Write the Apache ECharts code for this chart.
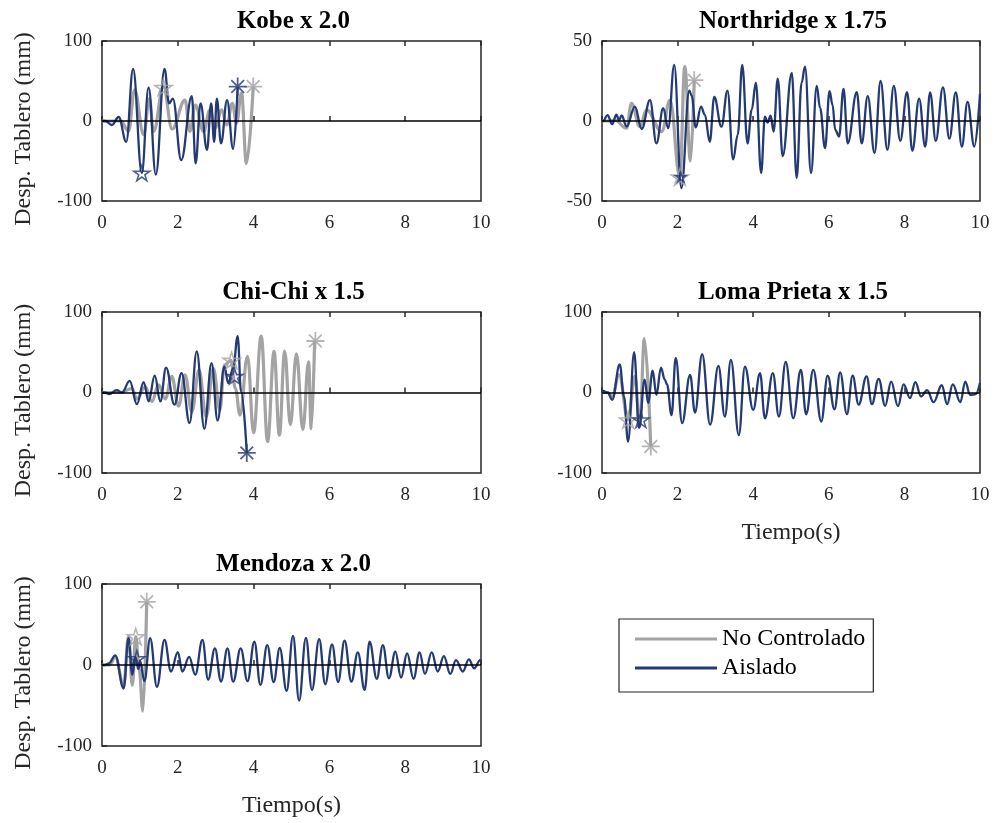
<!DOCTYPE html>
<html><head><meta charset="utf-8">
<script src="https://cdn.jsdelivr.net/npm/echarts@6/dist/echarts.min.js"></script>
<style>html,body{margin:0;padding:0;background:#fff}#c{width:998px;height:823px}</style>
</head><body><div id="c"></div>
<script>
// ---------- DATA (time s, displacement mm) ----------
const titles = ['Kobe x 2.0', 'Northridge x 1.75', 'Chi-Chi x 1.5', 'Loma Prieta x 1.5', 'Mendoza x 2.0'];
const xTicks = [0, 2, 4, 6, 8, 10];
const yLimits = [100, 50, 100, 100, 100];

const kobeNC = [[0,0],[0.5,0],[0.7,-13],[0.86,39],[1.1,-17],[1.25,28],[1.36,-13],[1.62,43],[1.85,-10],[2.19,26],[2.32,-13],[2.46,20],[2.68,-13],[2.85,14],[2.98,-9],[3.16,14],[3.29,-5],[3.44,22],[3.55,-3],[3.68,35],[3.81,-53],[3.99,43]];
const kobeAis = [[0,0],[0.09,0],[0.26,-5],[0.44,5],[0.64,-26],[0.82,65],[1.05,-65],[1.23,42],[1.42,-67],[1.65,65],[1.77,22],[1.87,28],[2.09,-49],[2.37,31],[2.47,-53],[2.6,22],[2.77,-36],[2.88,22],[2.96,-26],[3.03,28],[3.14,-28],[3.3,26],[3.46,-35],[3.58,43]];

const northNC = [[0,0],[0.2,0],[0.34,0.5],[0.65,-4.5],[0.78,11],[1.0,-3.5],[1.18,7],[1.58,-6.6],[1.8,13],[2.06,-35],[2.19,34],[2.34,-25],[2.44,25.5]];
const northAis = [[0,0],[0.03,0],[0.145,3.7],[0.27,-2],[0.38,4],[0.45,0.5],[0.52,3.5],[0.65,-3.5],[0.87,9],[1.05,-5],[1.27,13],[1.44,-14],[1.62,8],[1.75,-4.5],[1.91,35],[2.1,-42],[2.31,19],[2.37,16],[2.48,-4],[2.62,9],[2.72,4],[2.85,-13],[2.97,15],[3.16,-3.5],[3.32,19],[3.47,-24],[3.59,-8.7],[3.71,35],[3.85,-14],[3.96,7],[4.07,24],[4.21,-32.5],[4.31,2.7],[4.38,-1],[4.46,3.3],[4.54,-6.6],[4.65,26.5],[4.78,-22],[5.02,30],[5.15,-35.6],[5.28,24],[5.37,34],[5.53,-32.5],[5.68,22],[5.77,8],[5.9,-17],[6.02,18.6],[6.1,10],[6.17,-5.6],[6.27,-9.7],[6.39,20],[6.5,-14],[6.74,18],[6.87,-14],[7.03,15.5],[7.21,-20],[7.37,25],[7.55,-18],[7.72,22],[7.89,-12.4],[8.07,18],[8.21,-18.6],[8.39,14],[8.55,-16],[8.68,17.8],[8.83,-12.4],[9.02,21],[9.19,-11],[9.36,17.8],[9.52,-16],[9.67,12],[9.85,-16],[10,17]];

const chichiNC = [[0,0],[0.5,0],[0.79,5],[0.92,-8],[1.14,7],[1.32,-11],[1.49,9.5],[1.67,-8],[1.84,20],[2.02,-17],[2.19,22],[2.37,-24],[2.56,28],[2.75,-30],[2.94,30],[3.11,-22],[3.23,34],[3.4,40],[3.52,5],[3.64,-28],[3.84,45],[4.0,-50],[4.2,70],[4.37,-61],[4.54,51],[4.68,-53],[4.82,51],[4.97,-40],[5.13,48],[5.3,-46],[5.45,38],[5.52,-45],[5.61,64]];
const chichiAis = [[0,0],[0.07,0],[0.19,-2],[0.39,3],[0.53,0],[0.73,14.5],[0.92,-14.5],[1.1,13],[1.23,-11],[1.39,21],[1.54,-11],[1.69,31],[1.91,-15],[2.1,24],[2.31,-38],[2.5,51],[2.7,-45],[2.89,36.5],[3.05,-35],[3.23,32],[3.33,11.6],[3.46,30],[3.58,70],[3.67,1],[3.82,-75.5]];

const lomaNC = [[0,0],[0.15,0],[0.27,-5],[0.45,22],[0.69,-34],[0.87,20],[1.0,-42],[1.12,67],[1.29,-67]];
const lomaAis = [[0,0],[0.03,2],[0.15,0],[0.27,-9],[0.47,35],[0.58,-5],[0.69,-61],[0.85,50],[0.98,-44],[1.13,16],[1.22,-13],[1.34,27],[1.44,-3],[1.56,31],[1.66,16],[1.72,10],[1.84,-28],[1.95,43],[2.12,-38],[2.33,22],[2.46,-25],[2.65,47.5],[2.86,-40],[3.08,33],[3.25,-30],[3.41,40.5],[3.62,-53],[3.78,32],[4.0,-21.5],[4.18,24],[4.31,-32],[4.52,24],[4.68,-30],[4.86,38],[5.06,-32],[5.26,28],[5.4,-27],[5.59,28],[5.8,-36],[5.97,21],[6.15,-21],[6.3,25],[6.48,-27],[6.63,21],[6.79,-15],[7.0,20],[7.14,-14.5],[7.32,17],[7.49,-16.5],[7.65,13.6],[7.83,-17],[7.98,10],[8.15,-7],[8.29,13],[8.44,-5],[8.6,3],[8.77,-12],[8.99,9],[9.13,-14.5],[9.28,10],[9.48,-12],[9.61,13.6],[9.74,-3],[9.89,-2],[10,12]];

const mendozaNC = [[0,0],[0.2,0],[0.35,10],[0.57,-25],[0.7,35],[0.8,-25],[0.89,35],[0.98,-5],[1.08,-57],[1.18,78]];
const mendozaAis = [[0,0],[0.07,0],[0.18,2],[0.35,12],[0.57,-29],[0.7,33],[0.8,-12],[0.88,10],[0.96,-5],[1.0,5],[1.12,-20],[1.27,33],[1.45,-27],[1.65,31],[1.82,-8],[2.0,16],[2.12,-8],[2.3,10],[2.46,-12],[2.65,31],[2.8,-18],[2.98,20.5],[3.14,-20.5],[3.31,20.5],[3.46,-20.5],[3.66,20.5],[3.84,-20],[4.02,28.7],[4.18,-24.6],[4.36,24.6],[4.53,-21],[4.69,21],[4.87,-32],[5.04,36],[5.2,-44],[5.38,33.6],[5.54,-30.7],[5.73,32],[5.89,-23.8],[6.07,25.4],[6.23,-21],[6.4,30],[6.58,-20.5],[6.75,15.6],[6.93,-30.7],[7.06,28.7],[7.25,-17],[7.41,24.6],[7.57,-16.4],[7.74,16.4],[7.89,-15.6],[8.05,14.3],[8.22,-17],[8.38,15.6],[8.52,-11],[8.7,15.6],[8.86,-8],[9.02,11],[9.19,-11],[9.34,6],[9.52,-8],[9.68,7],[9.82,-4],[9.98,6],[10,5]];

// markers: [t, value]
const starNC = [[1.62,42],[2.06,-35],[3.42,40],[0.69,-34],[0.89,35]];
const starAis = [[1.05,-65],[2.08,-35],[3.5,20],[1.03,-34],[0.92,8]];
const asterNC = [[3.99,43],[2.44,25.5],[5.63,64],[1.29,-67],[1.18,78]];
const asterAis = [[3.58,43],null,[3.82,-75],null,null];

const ncSeries = [kobeNC, northNC, chichiNC, lomaNC, mendozaNC];
const aisSeries = [kobeAis, northAis, chichiAis, lomaAis, mendozaAis];

// ---------- STYLE / LAYOUT ----------
const GRAY = '#a3a3a3', BLUE = '#243a74', AX = '#262626';
const FONT = 'Liberation Serif';
const grids = [
  {left:102, top:41, width:379, height:160},
  {left:602, top:41, width:378, height:160},
  {left:102, top:312, width:379, height:161},
  {left:602, top:312, width:378, height:161},
  {left:102, top:584, width:379, height:162}
];
const STAR = 'path://M0,-10L2.245,-3.09L9.511,-3.09L3.633,1.18L5.878,8.09L0,3.82L-5.878,8.09L-3.633,1.18L-9.511,-3.09L-2.245,-3.09Z';
const ASTER = 'path://M0,-10L0,10M-10,0L10,0M-7.07,-7.07L7.07,7.07M-7.07,7.07L7.07,-7.07';

const option = {
  animation:false,
  backgroundColor:'#fff',
  title: titles.map((t,i)=>({
    text:t, left: grids[i].left + grids[i].width/2 - 3, top: grids[i].top - 37, textAlign:'center',
    textStyle:{fontFamily:FONT, fontWeight:'bold', fontSize:25, color:'#000'}
  })),
  grid: grids.map(g=>Object.assign({show:true, borderColor:AX, borderWidth:1.5, backgroundColor:'transparent'}, g)),
  xAxis: [], yAxis: [], series: [],
  legend: {
    left:619, top:619, orient:'vertical',
    borderColor:AX, borderWidth:1.2, padding:[8,8,12,16], itemGap:5,
    itemWidth:82, itemHeight:3,
    textStyle:{fontFamily:FONT, fontSize:24, color:'#000'},
    data:[{name:'No Controlado', icon:'rect'},{name:'Aislado', icon:'rect'}]
  }
};

for (let i=0;i<5;i++){
  const lim = yLimits[i];
  const axisBase = {
    gridIndex:i, type:'value', min:xTicks[0], max:xTicks[xTicks.length-1], interval:xTicks[1]-xTicks[0],
    axisLine:{show:false}, splitLine:{show:false},
    axisTick:{inside:true, length:5, lineStyle:{color:AX, width:1.5}}
  };
  const hasXName = (i===3 || i===4);
  option.xAxis.push(Object.assign({}, axisBase, {
    position:'bottom',
    axisLabel:{fontFamily:FONT, fontSize:19, color:AX, margin:13},
    name: hasXName ? 'Tiempo(s)' : '', nameLocation:'middle', nameGap:48,
    nameTextStyle:{fontFamily:FONT, fontSize:24, color:AX}
  }));
  option.xAxis.push(Object.assign({}, axisBase, {position:'top', axisLabel:{show:false}}));
  const hasYName = (i%2===0);
  option.yAxis.push({
    gridIndex:i, type:'value', min:-lim, max:lim, interval:lim,
    axisLine:{show:false}, splitLine:{show:false},
    axisTick:{inside:true, length:5, lineStyle:{color:AX, width:1.5}},
    axisLabel:{fontFamily:FONT, fontSize:19, color:AX, margin:10},
    name: hasYName ? 'Desp. Tablero (mm)' : '', nameLocation:'middle', nameGap:66,
    nameTextStyle:{fontFamily:FONT, fontSize:24, color:AX, padding:[0,16,0,0]}
  });
  const xi = i*2;
  option.series.push({
    name:'No Controlado', type:'line', xAxisIndex:xi, yAxisIndex:i, data:ncSeries[i],
    smooth:0.4, smoothMonotone:'x', showSymbol:false, lineStyle:{color:GRAY, width:3.2}, itemStyle:{color:GRAY}, z:2
  });
  option.series.push({
    name:'Aislado', type:'line', xAxisIndex:xi, yAxisIndex:i, data:aisSeries[i],
    smooth:0.4, smoothMonotone:'x', showSymbol:false, lineStyle:{color:BLUE, width:2.3}, itemStyle:{color:BLUE}, z:3,
    markLine:{silent:true, symbol:'none', label:{show:false}, data:[{yAxis:0}],
      lineStyle:{color:'#000', width:1.6, type:'solid'}, z:6}
  });
  const mk = (pt, sym, col, size, w) => pt ? option.series.push({
    name:'m'+option.series.length, type:'scatter', xAxisIndex:xi, yAxisIndex:i, data:[pt],
    symbol:sym, symbolSize:size, symbolKeepAspect:true, z:5,
    itemStyle:{color:'none', borderColor:col, borderWidth:w}
  }) : null;
  mk(starNC[i], STAR, GRAY, 17, 1.6);
  mk(starAis[i], STAR, BLUE, i===1?10:16, 1.6);
  mk(asterNC[i], ASTER, GRAY, 18, 1.8);
  mk(asterAis[i], ASTER, BLUE, 18, 1.8);
}

const chart = echarts.init(document.getElementById('c'), null, {renderer:'canvas'});
chart.setOption(option);
</script></body></html>
